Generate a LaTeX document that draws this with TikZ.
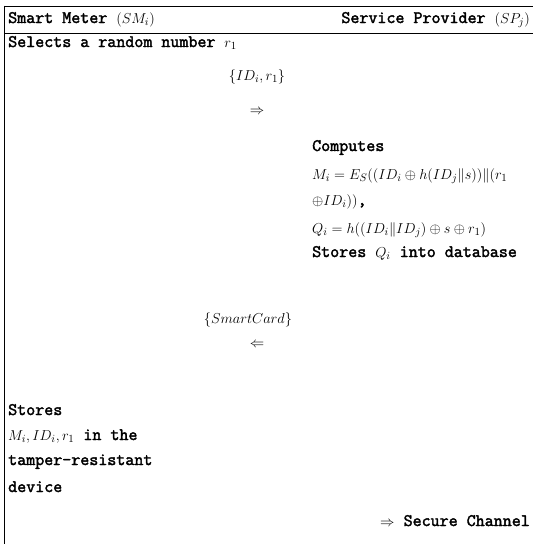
\documentclass[tikz,border=0pt]{standalone}
\usepackage{fontspec}
\newfontfamily\tbf{Latin Modern Mono}[FakeBold=2.2]
\newcommand\mth[1]{{\fontsize{15.8}{18}\selectfont$#1$}}
\begin{document}
\begin{tikzpicture}[x=1pt,y=1pt,
  txt/.style={inner sep=0pt, anchor=base west, font=\fontsize{17.5}{20}\tbf},
  txtr/.style={txt, anchor=base east},
  msg/.style={inner sep=0pt, anchor=center, font=\fontsize{15}{18}\selectfont},
  rule/.style={line width=0.8pt},
  border/.style={line width=1.6pt}]
\useasboundingbox (0,0) rectangle (535,-544);

% table frame: left border, top rule and rule under the header
\draw[border] (4.5,-5.5) -- (4.5,-544);
\draw[rule] (4.5,-6) -- (533,-6);
\draw[rule] (4.5,-33) -- (533,-33);

% header
\node[txt]  (hsm) at (8,-23)   {Smart Meter \mth{(SM_i)}};
\node[txtr] (hsp) at (530,-23) {Service Provider \mth{(SP_j)}};

% registration steps
\node[txt] (sel) at (8,-47) {Selects a random number \mth{r_1}};
\node[msg] (m1) at (257,-77)  {$\{ID_i, r_1\}$};
\node[msg] (a1) at (257,-112) {$\Rightarrow$};

\node[txt] (comp) at (312,-151) {Computes};
\node[txt] (mi)   at (312,-179) {\mth{M_i = E_S((ID_i\oplus h(ID_j\|s))\|(r_1}};
\node[txt] (mi2)  at (312,-205) {\mth{\oplus ID_i))},};
\node[txt] (qi)   at (312,-233) {\mth{Q_i = h((ID_i\|ID_j)\oplus s\oplus r_1)}};
\node[txt] (stq)  at (312,-257) {Stores \mth{Q_i} into database};

\node[msg] (m2) at (248,-320) {$\{SmartCard\}$};
\node[msg] (a2) at (257,-345) {$\Leftarrow$};

\node[txt] (st1) at (8,-415) {Stores};
\node[txt] (st2) at (8,-440) {\mth{M_i,ID_i,r_1} in the};
\node[txt] (st3) at (8,-465) {tamper-resistant};
\node[txt] (st4) at (8,-492) {device};

\node[txtr] (sc) at (530,-526) {\mth{\Rightarrow} Secure Channel};
\end{tikzpicture}
\end{document}
